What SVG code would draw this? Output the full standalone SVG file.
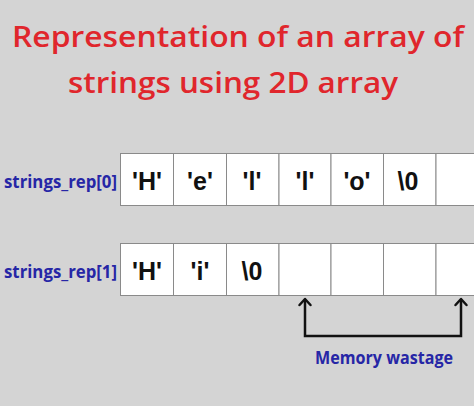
<svg xmlns="http://www.w3.org/2000/svg" width="474" height="406" viewBox="0 0 474 406">
<defs>
<style>
.title{font-family:"Open Sans","DejaVu Sans",sans-serif;font-size:28px;font-weight:600;fill:#e0262c}
.lbl{font-family:"Open Sans","Liberation Sans",sans-serif;font-size:18px;font-weight:700;fill:#2626a6}
.cell{fill:#ffffff;stroke:#8a8a8a;stroke-width:1}
.ch{font-family:"Liberation Sans","Arial",sans-serif;font-size:25px;font-weight:700;fill:#111;text-anchor:middle}
.con{fill:none;stroke:#111;stroke-width:2.5}
.head{fill:none;stroke:#111;stroke-width:2.5;stroke-linecap:round;stroke-linejoin:round}
</style>
</defs>
<rect width="474" height="406" fill="#d4d4d4"/>
<g id="title">
<text class="title" x="12" y="47" textLength="452" lengthAdjust="spacingAndGlyphs">Representation of an array of</text>
<text class="title" x="68" y="93" textLength="330" lengthAdjust="spacingAndGlyphs">strings using 2D array</text>
</g>
<g id="row0">
<text class="lbl" x="4" y="188" textLength="113" lengthAdjust="spacingAndGlyphs">strings_rep[0]</text>
<rect class="cell" x="120.5" y="153.5" width="53" height="52"/>
<rect class="cell" x="173.5" y="153.5" width="53" height="52"/>
<rect class="cell" x="226.5" y="153.5" width="52.5" height="52"/>
<rect class="cell" x="279" y="153.5" width="52" height="52"/>
<rect class="cell" x="331" y="153.5" width="52.5" height="52"/>
<rect class="cell" x="383.5" y="153.5" width="52.5" height="52"/>
<rect class="cell" x="436" y="153.5" width="52" height="52"/>
<text class="ch" x="147" y="190">'H'</text>
<text class="ch" x="200" y="190">'e'</text>
<text class="ch" x="252" y="190">'l'</text>
<text class="ch" x="305" y="190">'l'</text>
<text class="ch" x="357" y="190">'o'</text>
<text class="ch" x="408" y="190">\0</text>
</g>
<g id="row1">
<text class="lbl" x="4" y="278" textLength="113" lengthAdjust="spacingAndGlyphs">strings_rep[1]</text>
<rect class="cell" x="120.5" y="243.5" width="53" height="52"/>
<rect class="cell" x="173.5" y="243.5" width="53" height="52"/>
<rect class="cell" x="226.5" y="243.5" width="52.5" height="52"/>
<rect class="cell" x="279" y="243.5" width="52" height="52"/>
<rect class="cell" x="331" y="243.5" width="52.5" height="52"/>
<rect class="cell" x="383.5" y="243.5" width="52.5" height="52"/>
<rect class="cell" x="436" y="243.5" width="52" height="52"/>
<text class="ch" x="147" y="280">'H'</text>
<text class="ch" x="200" y="280">'i'</text>
<text class="ch" x="252" y="280">\0</text>
</g>
<g id="connectors">
<path class="con" d="M305,300 L305,336 L461,336 L461,300"/>
<path class="head" d="M299.5,305 L305,299 L310.5,305"/>
<path class="head" d="M455.5,305 L461,299 L466.5,305"/>
</g>
<g id="wastage">
<text class="lbl" x="315" y="364" textLength="138" lengthAdjust="spacingAndGlyphs">Memory wastage</text>
</g>
</svg>
